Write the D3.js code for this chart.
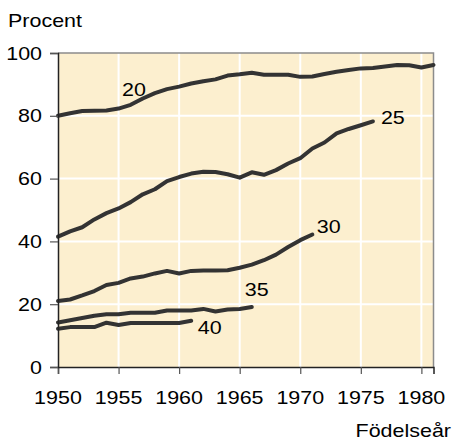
<!DOCTYPE html>
<html>
<head>
<meta charset="utf-8">
<script src="https://cdn.jsdelivr.net/npm/d3@7"></script>
<style>
  html, body { margin: 0; padding: 0; background: #ffffff; }
  svg { display: block; }
</style>
</head>
<body>
<svg id="chart" width="455" height="442"></svg>
<script>
// ---- Data ----
const xTicks = [1950, 1955, 1960, 1965, 1970, 1975, 1980];
const yTicks = [0, 20, 40, 60, 80, 100];
const yAxisTitle = "Procent";
const xAxisTitle = "Födelseår";

const series20Start = 1950;
const series20 = [80.0, 80.8, 81.5, 81.6, 81.7, 82.3, 83.5, 85.5, 87.2, 88.5, 89.3, 90.3, 91.0, 91.6, 92.8, 93.2,
                  93.7, 93.1, 93.1, 93.1, 92.4, 92.5, 93.3, 94.0, 94.6, 95.1, 95.2, 95.7, 96.2, 96.1, 95.4, 96.2];
const series25Start = 1950;
const series25 = [41.5, 43.2, 44.5, 47.0, 49.0, 50.5, 52.5, 55.0, 56.6, 59.2, 60.5, 61.6, 62.2, 62.1, 61.4, 60.3,
                  62.0, 61.2, 62.7, 64.8, 66.5, 69.6, 71.5, 74.4, 75.8, 77.0, 78.2];
const series30Start = 1950;
const series30 = [21.0, 21.5, 22.8, 24.2, 26.1, 26.8, 28.2, 28.8, 29.8, 30.6, 29.8, 30.6, 30.7, 30.7, 30.8, 31.6,
                  32.6, 34.0, 35.8, 38.2, 40.4, 42.2];
const series35Start = 1950;
const series35 = [14.2, 14.9, 15.6, 16.3, 16.8, 16.8, 17.3, 17.3, 17.3, 18.0, 18.0, 18.0, 18.5, 17.7, 18.3, 18.5, 19.1];
const series40Start = 1950;
const series40 = [12.2, 12.7, 12.7, 12.7, 14.1, 13.4, 14.0, 14.0, 14.0, 14.0, 14.0, 14.7];

const seriesNames = ["20", "25", "30", "35", "40"];

// ---- Layout ----
const svg = d3.select("#chart");
const pLeft = 58, pRight = 433.5, pTop = 53, pBottom = 367;
const x = d3.scaleLinear().domain([1950, 1981]).range([pLeft, pRight]);
const y = d3.scaleLinear().domain([0, 100]).range([pBottom, pTop]);

const FONT = "Liberation Sans, Arial, Helvetica, sans-serif";
const FS = 19, SX = 1.13;

function label(g, px, py, txt, anchor) {
  g.append("text")
    .attr("transform", `translate(${px},${py}) scale(${SX},1)`)
    .attr("text-anchor", anchor || "start")
    .attr("font-family", FONT)
    .attr("font-size", FS)
    .attr("fill", "#000")
    .text(txt);
}

// background
svg.append("rect")
  .attr("x", pLeft).attr("y", pTop)
  .attr("width", pRight - pLeft).attr("height", pBottom - pTop)
  .attr("fill", "#fcefcf");

// grid
const grid = svg.append("g");
grid.selectAll("line.v").data(xTicks.filter(d => d > 1950)).enter().append("line")
  .attr("x1", d => x(d)).attr("x2", d => x(d))
  .attr("y1", pTop).attr("y2", pBottom)
  .attr("stroke", "#ffffff").attr("stroke-width", 2);
grid.selectAll("line.h").data(yTicks.filter(d => d > 0 && d < 100)).enter().append("line")
  .attr("x1", pLeft).attr("x2", pRight)
  .attr("y1", d => y(d)).attr("y2", d => y(d))
  .attr("stroke", "#ffffff").attr("stroke-width", 2);

// top and right border
svg.append("path")
  .attr("d", `M${pLeft},${pTop}H${pRight}V${pBottom}`)
  .attr("fill", "none").attr("stroke", "#8c8c8c").attr("stroke-width", 1.5);

// lines
const lineGen = d3.line()
  .x(d => x(d[0])).y(d => y(d[1]));
const allSeries = [
  [series20Start, series20],
  [series25Start, series25],
  [series30Start, series30],
  [series35Start, series35],
  [series40Start, series40]
];
const lines = svg.append("g");
allSeries.forEach(([start, vals]) => {
  const pts = vals.map((v, i) => [start + i, v]);
  lines.append("path")
    .attr("d", lineGen(pts))
    .attr("fill", "none")
    .attr("stroke", "#333333")
    .attr("stroke-width", 4)
    .attr("stroke-linejoin", "round")
    .attr("stroke-linecap", "round");
});

// axes
const xAxis = d3.axisBottom(x).tickValues(xTicks).tickSize(7).tickFormat(d3.format("d"));
const gx = svg.append("g").attr("transform", `translate(0,${pBottom})`).call(xAxis);
gx.select(".domain").attr("stroke", "#222").attr("stroke-width", 1.5);
gx.selectAll(".tick line").attr("stroke", "#555").attr("stroke-width", 1.2);
gx.selectAll(".tick text").remove();
xTicks.forEach(t => label(gx, x(t), 37, String(t), "middle"));

const yAxis = d3.axisLeft(y).tickValues(yTicks).tickSize(8).tickFormat(d3.format("d"));
const gy = svg.append("g").attr("transform", `translate(${pLeft},0)`).call(yAxis);
gy.select(".domain").attr("stroke", "#222").attr("stroke-width", 1.5);
gy.selectAll(".tick line").attr("stroke", "#555").attr("stroke-width", 1.2);
gy.selectAll(".tick text").remove();
yTicks.forEach(t => label(gy, -16, y(t) + 6.5, String(t), "end"));

// titles
label(svg, 8, 27, yAxisTitle, "start");
label(svg, 451, 437, xAxisTitle, "end");

// series labels
const labelPos = [
  [x(1955) + 3.5, y(80) - 20],
  [x(1976) + 8, y(80) + 8],
  [x(1971) + 4.5, y(40) - 8],
  [x(1966) - 7, y(20) - 8.5],
  [x(1961) + 6.5, y(20) + 29.5]
];
seriesNames.forEach((n, i) => {
  label(svg, labelPos[i][0], labelPos[i][1], n, "start");
});
</script>
</body>
</html>
